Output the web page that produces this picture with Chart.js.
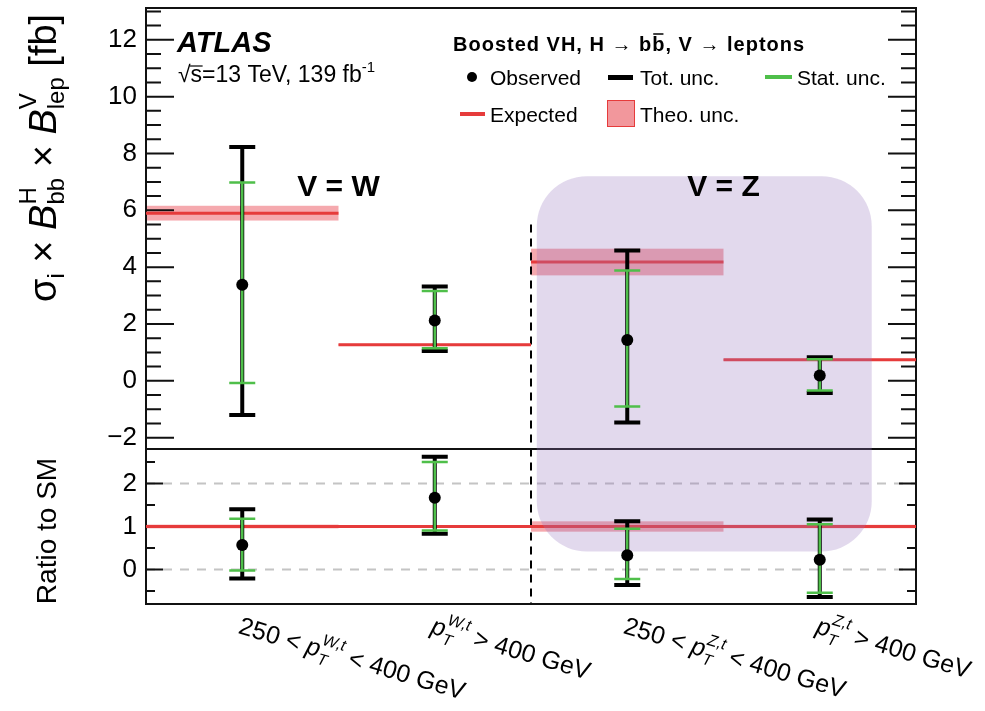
<!DOCTYPE html>
<html>
<head>
<meta charset="utf-8">
<script src="https://cdn.jsdelivr.net/npm/chart.js@4.4.0/dist/chart.umd.min.js"></script>
<style>
  body { margin: 0; background: #fff; }
  canvas { display: block; }
</style>
</head>
<body>
<canvas id="chart" width="985" height="711"></canvas>
<script>
const FONT = '"Liberation Sans", Arial, Helvetica, sans-serif';

// bins (x axis)
const binEdges = [0, 1, 2, 3, 4];
const binCenters = [0.5, 1.5, 2.5, 3.5];
const binPre = ['250 < ', '', '250 < ', ''];
const binSup = ['W,t', 'W,t', 'Z,t', 'Z,t'];
const binPost = [' < 400 GeV', ' > 400 GeV', ' < 400 GeV', ' > 400 GeV'];

// upper panel: sigma x B x B [fb]
const observed = [3.38, 2.12, 1.44, 0.19];
const totUp = [8.23, 3.32, 4.59, 0.83];
const totDown = [-1.20, 1.05, -1.47, -0.43];
const statUp = [6.98, 3.16, 3.88, 0.76];
const statDown = [-0.08, 1.15, -0.90, -0.34];
const expected = [5.90, 1.27, 4.18, 0.74];
const theoUp = [6.16, 1.30, 4.65, 0.77];
const theoDown = [5.64, 1.24, 3.71, 0.71];

// lower panel: ratio to SM
const ratioObs = [0.57, 1.67, 0.33, 0.23];
const ratioTotUp = [1.40, 2.62, 1.12, 1.16];
const ratioTotDown = [-0.21, 0.83, -0.36, -0.64];
const ratioStatUp = [1.18, 2.50, 0.95, 1.05];
const ratioStatDown = [-0.02, 0.91, -0.22, -0.54];
const ratioExpected = [1, 1, 1, 1];
const ratioTheoUp = [1.044, 1.025, 1.12, 1.04];
const ratioTheoDown = [0.956, 0.975, 0.88, 0.96];

// tick labels
const mainTicks = [-2, 0, 2, 4, 6, 8, 10, 12];
const ratioTicks = [0, 1, 2];
const ratioGrid = [0, 2];

const RED = '#e63b3b';
const BAND = 'rgba(232,65,75,0.45)';
const GREEN = '#4fbf4a';

function stepData(vals) {
  const pts = [];
  vals.forEach((v, i) => {
    pts.push({x: binEdges[i], y: v}, {x: binEdges[i + 1], y: v}, {x: binEdges[i + 1], y: null});
  });
  return pts;
}

function minus(v) {
  return String(v).replace('-', '\u2212');
}

function drawBars(ctx, xs, ys, lo, hi, color, lw, capLw) {
  ctx.strokeStyle = color;
  lo.forEach((l, i) => {
    const px = xs.getPixelForValue(binCenters[i]);
    const top = ys.getPixelForValue(hi[i]);
    const bot = ys.getPixelForValue(l);
    ctx.lineWidth = lw;
    ctx.beginPath(); ctx.moveTo(px, top); ctx.lineTo(px, bot); ctx.stroke();
    ctx.lineWidth = capLw;
    ctx.beginPath();
    ctx.moveTo(px - 13, top); ctx.lineTo(px + 13, top);
    ctx.moveTo(px - 13, bot); ctx.lineTo(px + 13, bot);
    ctx.stroke();
  });
}

function drawBands(ctx, xs, ys, lo, hi) {
  ctx.fillStyle = BAND;
  lo.forEach((l, i) => {
    const x0 = xs.getPixelForValue(binEdges[i]);
    const x1 = xs.getPixelForValue(binEdges[i + 1]);
    const y0 = ys.getPixelForValue(hi[i]);
    const y1 = ys.getPixelForValue(l);
    ctx.fillRect(x0, y0, x1 - x0, y1 - y0);
  });
}

// draw a run of text pieces along a baseline
function drawParts(ctx, parts, x, y) {
  let cx = x;
  for (const p of parts) {
    if (p.sup !== undefined) {
      ctx.font = p.f;
      const w1 = ctx.measureText(p.sup).width;
      ctx.fillText(p.sup, cx, y + p.supDy);
      ctx.font = p.subF || p.f;
      const w2 = ctx.measureText(p.sub).width;
      ctx.fillText(p.sub, cx + (p.subDx || 0), y + p.subDy);
      cx += Math.max(w1, w2 + (p.subDx || 0));
    } else {
      ctx.font = p.f;
      ctx.fillText(p.t, cx, y + (p.dy || 0));
      cx += ctx.measureText(p.t).width;
    }
  }
  return cx - x;
}

const panelPlugin = {
  id: 'panels',
  beforeDatasetsDraw(chart) {
    const ctx = chart.ctx;
    const xs = chart.scales.x, ys = chart.scales.y, yr = chart.scales.y2;
    const area = chart.chartArea;
    chart._overlayDone = false;
    ctx.save();
    // ratio grid
    ctx.strokeStyle = '#c4c4c4';
    ctx.lineWidth = 2;
    ctx.setLineDash([9, 8]);
    ratioGrid.forEach(v => {
      const py = yr.getPixelForValue(v);
      ctx.beginPath(); ctx.moveTo(area.left, py); ctx.lineTo(area.right, py); ctx.stroke();
    });
    ctx.setLineDash([]);
    // theory bands
    drawBands(ctx, xs, ys, theoDown, theoUp);
    drawBands(ctx, xs, yr, ratioTheoDown, ratioTheoUp);
    // W / Z separator
    ctx.strokeStyle = '#000';
    ctx.lineWidth = 2;
    ctx.setLineDash([8, 6]);
    const sx = xs.getPixelForValue(2);
    ctx.beginPath(); ctx.moveTo(sx, ys.getPixelForValue(5.5)); ctx.lineTo(sx, area.bottom); ctx.stroke();
    ctx.setLineDash([]);
    // frame and panel divider
    ctx.strokeStyle = '#111';
    ctx.lineWidth = 2;
    ctx.strokeRect(area.left, area.top, area.right - area.left, area.bottom - area.top);
    ctx.beginPath(); ctx.moveTo(area.left, ys.bottom); ctx.lineTo(area.right, ys.bottom); ctx.stroke();
    // tick marks on both sides
    [[ys, 28, 15, mainTicks], [yr, 17, 9, ratioTicks]].forEach(([s, big, small, majors]) => {
      s.ticks.forEach(t => {
        const py = s.getPixelForValue(t.value);
        const len = majors.includes(t.value) ? big : small;
        ctx.lineWidth = 2;
        ctx.beginPath();
        ctx.moveTo(area.left, py); ctx.lineTo(area.left + len, py);
        ctx.moveTo(area.right, py); ctx.lineTo(area.right - len, py);
        ctx.stroke();
      });
    });
    ctx.restore();
  },
  beforeDatasetDraw(chart, args) {
    if (chart._overlayDone || chart.data.datasets[args.index].type !== 'scatter') return;
    chart._overlayDone = true;
    const ctx = chart.ctx;
    const xs = chart.scales.x, ys = chart.scales.y, yr = chart.scales.y2;
    ctx.save();
    // V = Z highlight box
    const x0 = xs.getPixelForValue(2.03), x1 = xs.getPixelForValue(3.77);
    const y0 = ys.getPixelForValue(7.2), y1 = yr.getPixelForValue(0.42);
    ctx.fillStyle = 'rgba(150,120,190,0.28)';
    ctx.beginPath();
    ctx.roundRect(x0, y0, x1 - x0, y1 - y0, 50);
    ctx.fill();
    // error bars
    drawBars(ctx, xs, ys, totDown, totUp, '#000', 4, 4);
    drawBars(ctx, xs, ys, statDown, statUp, GREEN, 2.5, 2.5);
    drawBars(ctx, xs, yr, ratioTotDown, ratioTotUp, '#000', 4, 4);
    drawBars(ctx, xs, yr, ratioStatDown, ratioStatUp, GREEN, 2.5, 2.5);
    ctx.restore();
  },
  afterDraw(chart) {
    const ctx = chart.ctx;
    const xs = chart.scales.x, ys = chart.scales.y;
    ctx.save();
    ctx.fillStyle = '#000';
    ctx.textBaseline = 'alphabetic';
    ctx.textAlign = 'left';

    // y axis titles
    ctx.save();
    ctx.translate(56, 302);
    ctx.rotate(-Math.PI / 2);
    const big = `38px ${FONT}`, bigIt = `italic 38px ${FONT}`, sm = `24px ${FONT}`;
    drawParts(ctx, [
      {t: '\u03c3', f: big},
      {t: 'i', f: sm, dy: 8},
      {t: ' \u00d7 ', f: big},
      {t: 'B', f: bigIt},
      {sup: 'H', sub: 'bb', f: sm, supDy: -20, subDy: 8},
      {t: ' \u00d7 ', f: big},
      {t: 'B', f: bigIt},
      {sup: 'V', sub: 'lep', f: sm, supDy: -20, subDy: 8},
      {t: ' [fb]', f: big}
    ], 0, 0);
    ctx.restore();

    ctx.save();
    ctx.translate(56, 531);
    ctx.rotate(-Math.PI / 2);
    ctx.font = `28px ${FONT}`;
    ctx.textAlign = 'center';
    ctx.fillText('Ratio to SM', 0, 0);
    ctx.restore();

    // rotated bin labels
    binCenters.forEach((c, i) => {
      ctx.save();
      ctx.translate(xs.getPixelForValue(c) - 5, 633);
      ctx.rotate(16.5 * Math.PI / 180);
      drawParts(ctx, [
        {t: binPre[i], f: `25px ${FONT}`},
        {t: 'p', f: `italic 25px ${FONT}`},
        {sup: binSup[i], sub: 'T', f: `italic 16px ${FONT}`, supDy: -13, subDy: 7},
        {t: binPost[i], f: `25px ${FONT}`}
      ], 0, 0);
      ctx.restore();
    });

    // ATLAS label
    ctx.font = `bold italic 29px ${FONT}`;
    ctx.fillText('ATLAS', 177, 52);
    drawParts(ctx, [
      {t: '\u221a', f: `23px ${FONT}`},
      {t: 's=13 TeV, 139 fb', f: `23px ${FONT}`},
      {t: '-1', f: `15px ${FONT}`, dy: -10}
    ], 178, 82);
    ctx.font = `23px ${FONT}`;
    const rw = ctx.measureText('\u221a').width;
    ctx.lineWidth = 1.2;
    ctx.beginPath(); ctx.moveTo(178 + rw - 1, 66); ctx.lineTo(178 + rw + 12, 66); ctx.stroke();

    // legend
    const hx = 453, hy = 51;
    let cx = hx;
    ctx.letterSpacing = '1px';
    const seg = (t, f) => { ctx.font = f; ctx.fillText(t, cx, hy); const ww = ctx.measureText(t).width; cx += ww; return ww; };
    const hb = `bold 20px ${FONT}`, hr = `20px ${FONT}`;
    seg('Boosted VH, H ', hb);
    seg('\u2192', hr);
    seg(' b', hb);
    const bx = cx;
    const bw = seg('b', hb);
    ctx.lineWidth = 1.5;
    ctx.beginPath(); ctx.moveTo(bx + 1, hy - 17); ctx.lineTo(bx + bw - 2, hy - 17); ctx.stroke();
    seg(', V ', hb);
    seg('\u2192', hr);
    seg(' leptons', hb);
    ctx.letterSpacing = '0px';

    ctx.font = `21px ${FONT}`;
    ctx.beginPath(); ctx.arc(472, 77, 5, 0, Math.PI * 2); ctx.fill();
    ctx.fillText('Observed', 490, 85);
    ctx.fillRect(608, 75, 25, 5);
    ctx.fillText('Tot. unc.', 640, 85);
    ctx.fillStyle = GREEN;
    ctx.fillRect(765, 75, 27, 4);
    ctx.fillStyle = '#000';
    ctx.fillText('Stat. unc.', 797, 85);
    ctx.fillStyle = RED;
    ctx.fillRect(460, 112, 25, 4);
    ctx.fillStyle = '#000';
    ctx.fillText('Expected', 490, 122);
    ctx.fillStyle = 'rgba(232,65,75,0.55)';
    ctx.fillRect(607, 100, 28, 27);
    ctx.strokeStyle = RED;
    ctx.lineWidth = 1;
    ctx.strokeRect(607.5, 100.5, 27, 26);
    ctx.fillStyle = '#000';
    ctx.fillText('Theo. unc.', 640, 122);

    // region labels
    ctx.font = `bold 30px ${FONT}`;
    ctx.textAlign = 'center';
    ctx.fillText('V = W', xs.getPixelForValue(1), ys.getPixelForValue(6.5));
    ctx.fillText('V = Z', xs.getPixelForValue(3), ys.getPixelForValue(6.5));
    ctx.restore();
  }
};

const tickFont = {family: FONT, size: 26};
const fixWidth = s => { s.width = 146; s.paddingTop = 0; s.paddingBottom = 0; };

new Chart(document.getElementById('chart'), {
  data: {
    datasets: [
      {type: 'line', label: 'Expected', data: stepData(expected), yAxisID: 'y',
       borderColor: RED, borderWidth: 3, pointRadius: 0, spanGaps: false, order: 2},
      {type: 'line', label: 'Expected ratio', data: stepData(ratioExpected), yAxisID: 'y2',
       borderColor: RED, borderWidth: 3, pointRadius: 0, spanGaps: false, order: 2},
      {type: 'scatter', label: 'Observed', data: observed.map((v, i) => ({x: binCenters[i], y: v})), yAxisID: 'y',
       backgroundColor: '#000', borderWidth: 0, pointRadius: 6, order: 1},
      {type: 'scatter', label: 'Observed ratio', data: ratioObs.map((v, i) => ({x: binCenters[i], y: v})), yAxisID: 'y2',
       backgroundColor: '#000', borderWidth: 0, pointRadius: 6, order: 1}
    ]
  },
  options: {
    responsive: false,
    animation: false,
    layout: {padding: {top: 8, right: 69, bottom: 107, left: 0}},
    plugins: {legend: {display: false}, tooltip: {enabled: false}},
    scales: {
      x: {type: 'linear', min: 0, max: 4, display: false},
      y: {
        type: 'linear', position: 'left', stack: 'panels', stackWeight: 441, weight: 2,
        min: -2.4, max: 13.12,
        grid: {display: false, drawTicks: false}, border: {display: false},
        ticks: {stepSize: 0.5, autoSkip: false, includeBounds: false, padding: 9, color: '#000', font: tickFont,
                callback: v => mainTicks.includes(v) ? minus(v) : ''},
        afterFit: fixWidth
      },
      y2: {
        type: 'linear', position: 'left', stack: 'panels', stackWeight: 155, weight: 1,
        min: -0.8, max: 2.8,
        grid: {display: false, drawTicks: false}, border: {display: false},
        ticks: {stepSize: 0.5, autoSkip: false, includeBounds: false, padding: 9, color: '#000', font: tickFont,
                callback: v => ratioTicks.includes(v) ? minus(v) : ''},
        afterFit: fixWidth
      }
    }
  },
  plugins: [panelPlugin]
});
</script>
</body>
</html>
